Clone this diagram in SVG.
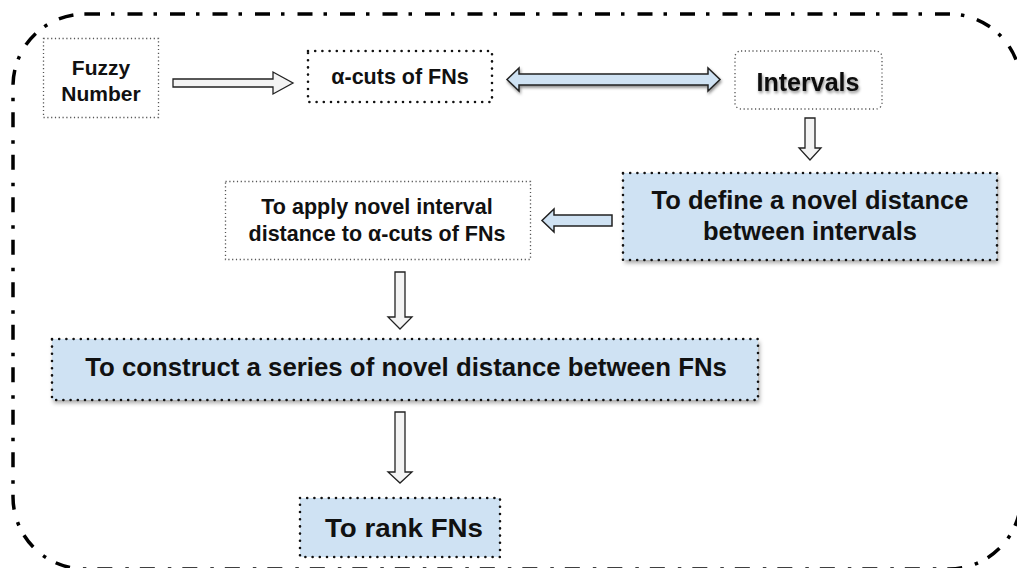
<svg xmlns="http://www.w3.org/2000/svg" width="1017" height="568" viewBox="0 0 1017 568">
<defs>
<filter id="sh" x="-10%" y="-20%" width="120%" height="150%">
<feDropShadow dx="1.5" dy="3" stdDeviation="2" flood-color="#000" flood-opacity="0.35"/>
</filter>
<filter id="tsh" x="-10%" y="-30%" width="120%" height="160%">
<feDropShadow dx="1" dy="2" stdDeviation="1.5" flood-color="#000" flood-opacity="0.45"/>
</filter>
</defs>
<style>
.t{font-family:"Liberation Sans",Arial,sans-serif;font-weight:bold;fill:#111;text-anchor:middle}
.gray{fill:#fff;stroke:#555;stroke-width:1.3;stroke-dasharray:1.2 2.6}
.blk{stroke:#111;stroke-width:2.6;stroke-dasharray:0 7.2;stroke-linecap:round}
.blue{fill:#cfe2f3}
.wh{fill:#fff}
.arw{fill:#f4f4f4;stroke:#222;stroke-width:1.3;stroke-linejoin:miter}
.arb{fill:#cfe2f3;stroke:#222;stroke-width:1.5;stroke-linejoin:miter}
.outer{fill:none;stroke:#000;stroke-width:3.5;stroke-dasharray:15 11 3.5 13}
</style>
<rect class="outer" x="13" y="14" width="1008" height="555" rx="72" ry="72"/>
<g id="connectors">
<polygon class="arw" points="173,79 273,79 273,72 293,83 273,94 273,87 173,87"/>
<polygon class="arb" filter="url(#tsh)" points="507,79.5 519,68 519,74 708,74 708,68 720,79.5 708,91 708,85 519,85 519,91"/>
<polygon class="arw" points="805,118 815,118 815,148 821,148 810,160 799,148 805,148"/>
<polygon class="arb" points="612,215 612,226 554,226 554,232 542,220.5 554,209 554,215"/>
<polygon class="arw" points="395,272 405,272 405,317 412,317 400,329 388,317 395,317"/>
<polygon class="arw" points="395,412 405,412 405,472 412,472 400,483 388,472 395,472"/>
</g>
<g id="fuzzy">
<rect class="gray" x="43.5" y="38.5" width="115" height="79"/>
<text class="t" x="101" y="75" font-size="21">Fuzzy</text>
<text class="t" x="101" y="101" font-size="21">Number</text>
</g>
<g id="alphacuts">
<rect class="wh" x="308" y="51" width="184" height="51"/>
<rect class="blk" fill="none" x="308" y="51" width="184" height="51"/>
<text class="t" x="400" y="84" font-size="21.5">α-cuts of FNs</text>
</g>
<g id="intervals">
<rect class="gray" x="735" y="51" width="147" height="58" rx="6"/>
<text class="t" x="808" y="91" font-size="25" filter="url(#tsh)" textLength="103" lengthAdjust="spacingAndGlyphs">Intervals</text>
</g>
<g id="define">
<rect class="blue" filter="url(#sh)" x="623" y="173" width="374" height="87"/>
<rect class="blk" fill="none" x="623" y="173" width="374" height="87"/>
<text class="t" x="810" y="209" font-size="25.5">To define a novel distance</text>
<text class="t" x="810" y="240" font-size="25.5">between intervals</text>
</g>
<g id="apply">
<rect class="gray" x="225.5" y="181.5" width="305" height="78"/>
<text class="t" x="377" y="214" font-size="21.5">To apply novel interval</text>
<text class="t" x="377" y="241" font-size="21.5">distance to α-cuts of FNs</text>
</g>
<g id="construct">
<rect class="blue" filter="url(#sh)" x="52" y="339" width="706" height="61"/>
<rect class="blk" fill="none" x="52" y="339" width="706" height="61"/>
<text class="t" x="406" y="376" font-size="25.8">To construct a series of novel distance between FNs</text>
</g>
<g id="rank">
<rect class="blue" x="300" y="498" width="200" height="59"/>
<rect class="blk" fill="none" x="300" y="498" width="200" height="59"/>
<text class="t" x="404" y="537" font-size="25" textLength="158" lengthAdjust="spacingAndGlyphs">To rank FNs</text>
</g>
</svg>
